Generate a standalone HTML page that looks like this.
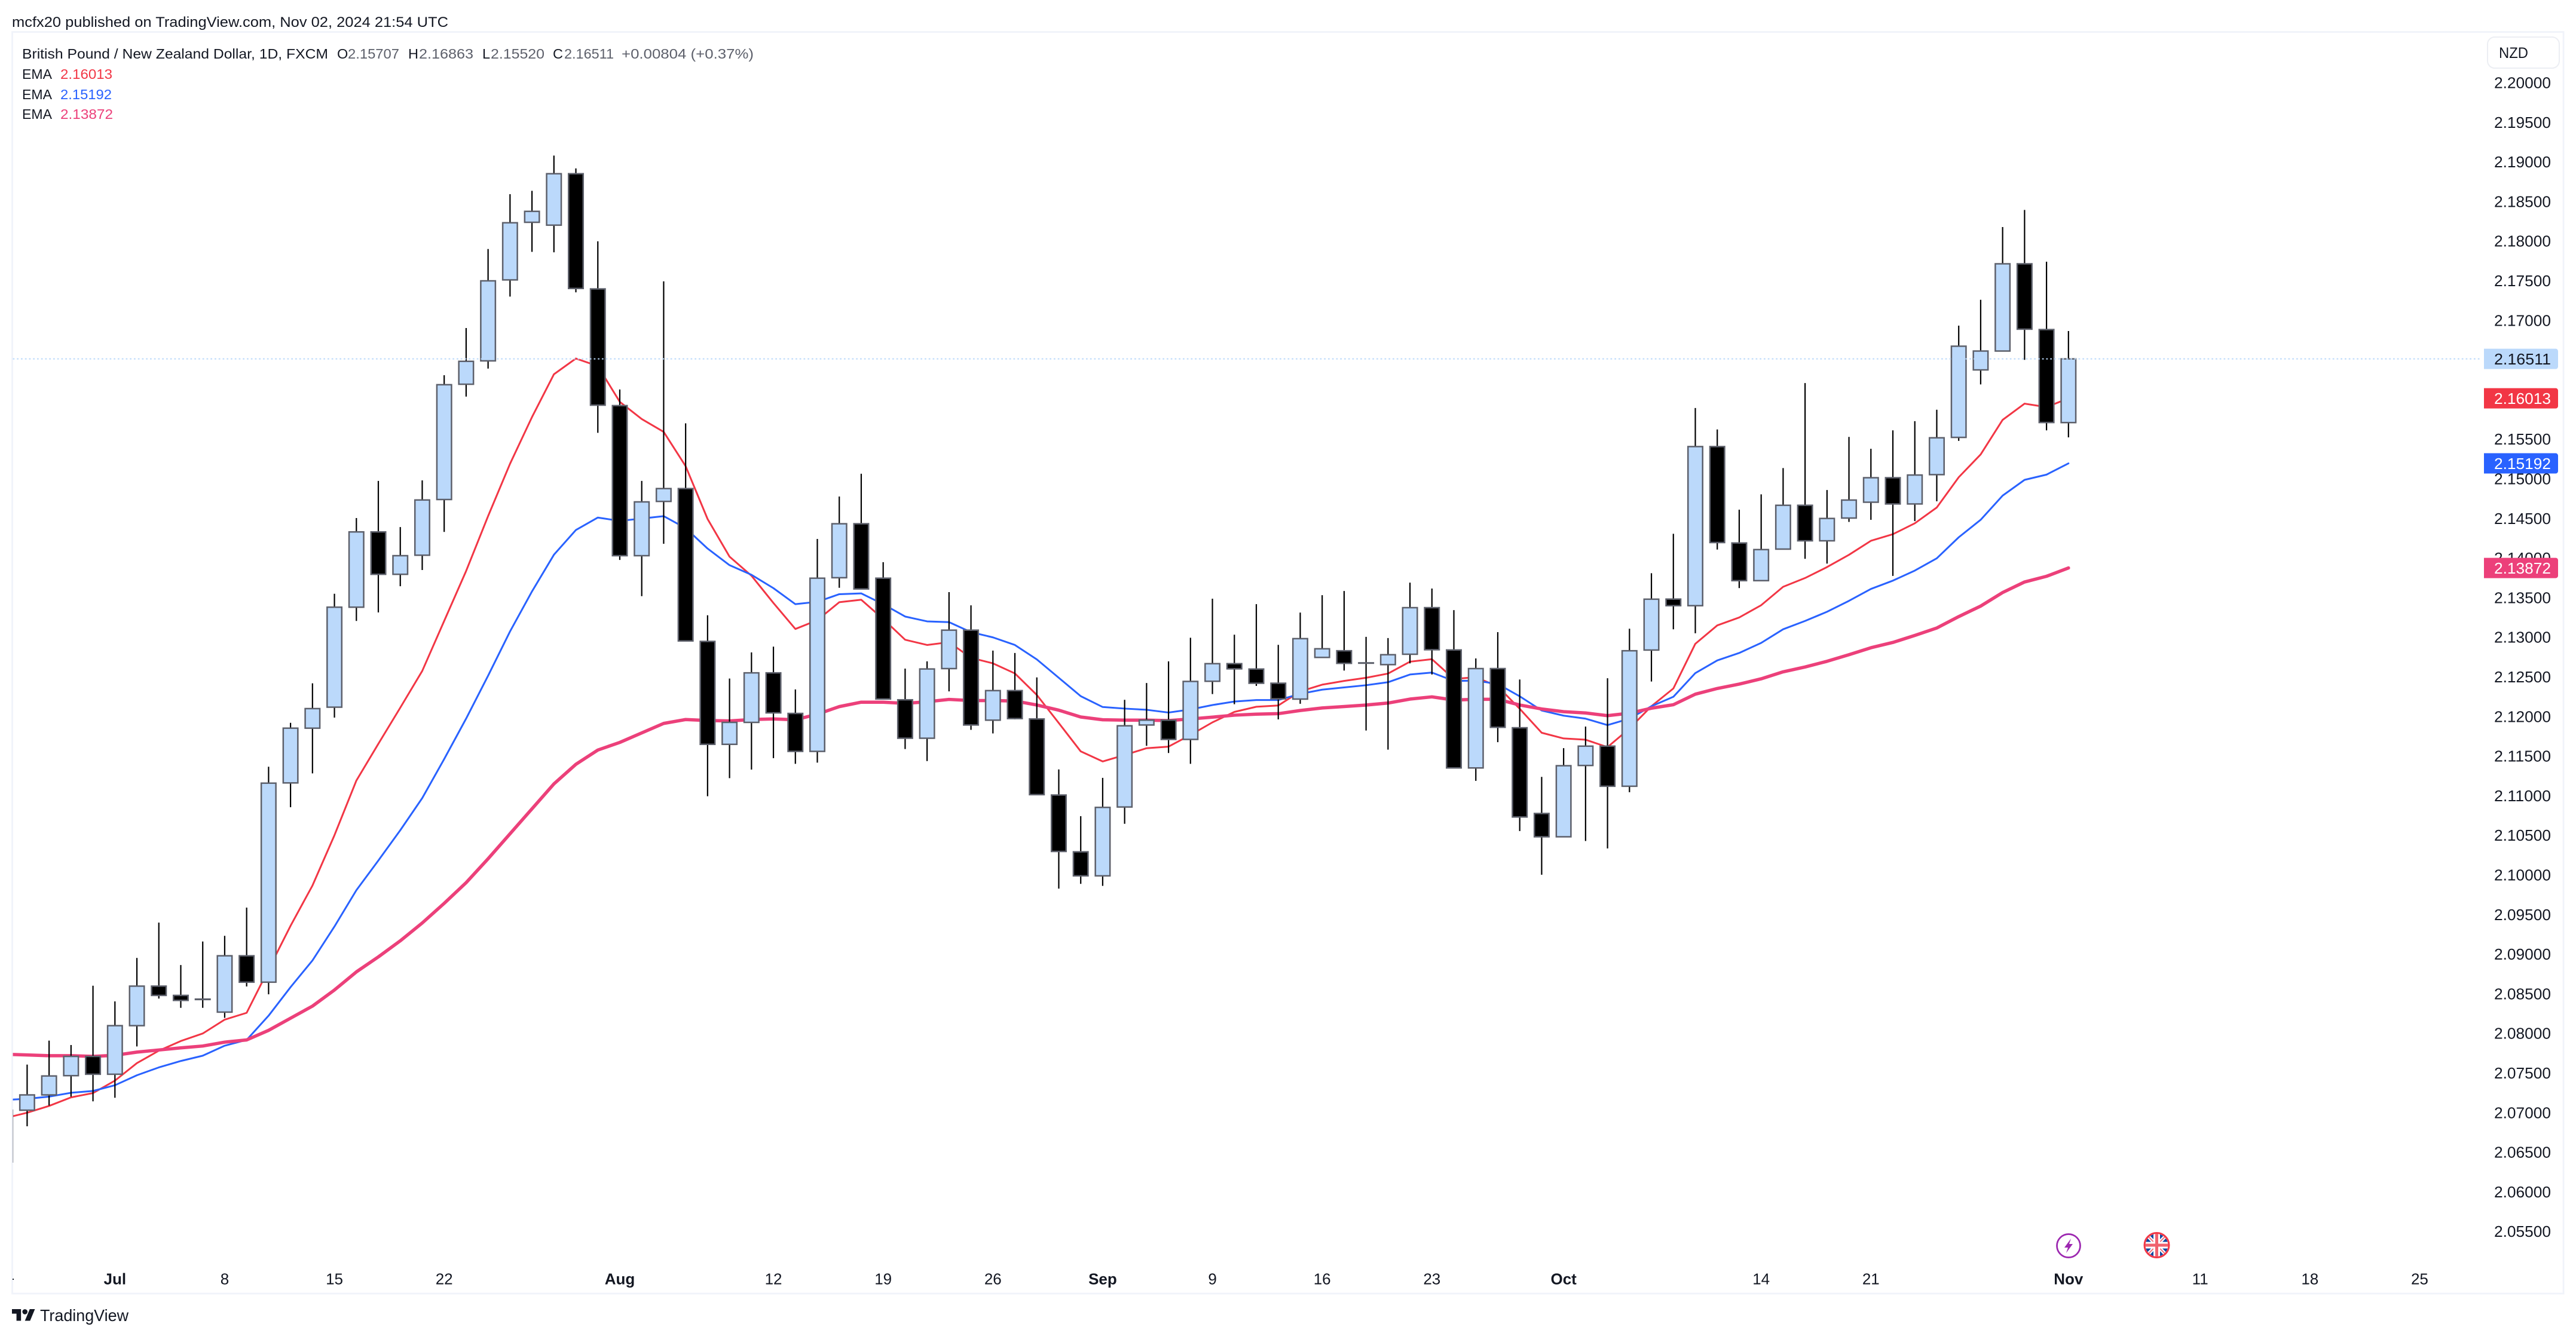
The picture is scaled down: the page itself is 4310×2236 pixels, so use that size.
<!DOCTYPE html>
<html lang="en">
<head>
<meta charset="utf-8">
<title>GBP/NZD 1D chart</title>
<style>
html,body{margin:0;padding:0;background:#fff;}
svg{display:block;font-family:"Liberation Sans",sans-serif;}
</style>
</head>
<body>
<svg id="chart" xmlns="http://www.w3.org/2000/svg" width="4310" height="2236" viewBox="0 0 4310 2236">
  <defs>
    <clipPath id="plot-clip"><rect x="21.5" y="54" width="4130" height="2110"/></clipPath>
    <clipPath id="flag-clip"><circle cx="3608.5" cy="2084" r="19"/></clipPath>
  </defs>
  <rect x="0" y="0" width="4310" height="2236" fill="#ffffff"/>
  <rect x="20.5" y="53.5" width="4268.5" height="2111.5" fill="none" stroke="#f0f3fa" stroke-width="2.75"/>
  <text x="20" y="45" font-size="24" fill="#131722" textLength="730" lengthAdjust="spacingAndGlyphs">mcfx20 published on TradingView.com, Nov 02, 2024 21:54 UTC</text>

  <g id="series-layer" clip-path="url(#plot-clip)"></g>
  <g id="candle-layer" clip-path="url(#plot-clip)"></g>
  <g id="overlay-layer"></g>
  <g id="axis-layer"></g>

  <g font-size="23.5">
    <text x="37" y="98" fill="#131722" textLength="512" lengthAdjust="spacingAndGlyphs">British Pound / New Zealand Dollar, 1D, FXCM</text>
    <text x="564" y="98" fill="#131722">O</text>
    <text x="582" y="98" fill="#5d606b" textLength="86" lengthAdjust="spacingAndGlyphs">2.15707</text>
    <text x="683" y="98" fill="#131722">H</text>
    <text x="701" y="98" fill="#5d606b" textLength="91" lengthAdjust="spacingAndGlyphs">2.16863</text>
    <text x="807" y="98" fill="#131722">L</text>
    <text x="821" y="98" fill="#5d606b" textLength="90" lengthAdjust="spacingAndGlyphs">2.15520</text>
    <text x="925" y="98" fill="#131722">C</text>
    <text x="944" y="98" fill="#5d606b" textLength="83" lengthAdjust="spacingAndGlyphs">2.16511</text>
    <text x="1040" y="98" fill="#5d606b" textLength="221" lengthAdjust="spacingAndGlyphs">+0.00804 (+0.37%)</text>
    <text x="37" y="132" fill="#131722" textLength="50" lengthAdjust="spacingAndGlyphs">EMA</text>
    <text x="101" y="132" fill="#f23645" textLength="87" lengthAdjust="spacingAndGlyphs">2.16013</text>
    <text x="37" y="166" fill="#131722" textLength="50" lengthAdjust="spacingAndGlyphs">EMA</text>
    <text x="101" y="166" fill="#2962ff" textLength="86" lengthAdjust="spacingAndGlyphs">2.15192</text>
    <text x="37" y="199" fill="#131722" textLength="50" lengthAdjust="spacingAndGlyphs">EMA</text>
    <text x="101" y="199" fill="#ec407a" textLength="88" lengthAdjust="spacingAndGlyphs">2.13872</text>
  </g>

  <rect x="4162" y="62" width="120" height="52" rx="12" fill="#ffffff" stroke="#eceef3" stroke-width="2"/>
  <text x="4181" y="97" font-size="25" fill="#131722" textLength="49" lengthAdjust="spacingAndGlyphs">NZD</text>

  <rect x="21" y="2140" width="2" height="2" fill="#131722"/>

  <g>
    <circle cx="3461" cy="2085" r="19.5" fill="#ffffff" stroke="#9c27b0" stroke-width="2.75"/>
    <polygon points="3465,2073 3454,2088 3460,2088 3457,2097 3468,2082 3462,2082" fill="#9c27b0"/>
  </g>
  <g>
    <circle cx="3608.5" cy="2084" r="19" fill="#0d47a1"/>
    <g clip-path="url(#flag-clip)">
      <path d="M3590 2065L3627 2103M3627 2065L3590 2103" stroke="#ffffff" stroke-width="6"/>
      <path d="M3590 2065L3627 2103M3627 2065L3590 2103" stroke="#f0737d" stroke-width="2"/>
      <rect x="3603" y="2064" width="11" height="40" fill="#ffffff"/>
      <rect x="3588" y="2078.5" width="41" height="11" fill="#ffffff"/>
      <rect x="3606" y="2064" width="5" height="40" fill="#f0626e"/>
      <rect x="3588" y="2081.5" width="41" height="5" fill="#f0626e"/>
    </g>
    <circle cx="3608.5" cy="2084" r="20.5" fill="none" stroke="#f23645" stroke-width="3"/>
  </g>

  <g>
    <path transform="translate(20 2186.7) scale(1.083)" fill="#131722" d="M14 22H7V11H0V4h14v18zM28 22h-8l7.5-18h8L28 22z"/>
    <circle cx="41.7" cy="2195.4" r="4.3" fill="#131722"/>
    <text x="67" y="2211" font-size="28" fill="#131722" textLength="148" lengthAdjust="spacingAndGlyphs">TradingView</text>
  </g>
</svg>

<script>
// Daily candles: first entry is Jun 24, index 5 is Jul 1, last entry is Nov 1.
var opens = [2.06375,2.07028,2.07221,2.07464,2.07707,2.07482,2.08095,2.08594,2.08477,2.08430,2.08266,2.08977,2.08644,2.11159,2.11850,2.12115,2.13377,2.14327,2.13792,2.14033,2.14736,2.16191,2.16486,2.17508,2.18235,2.18199,2.18848,2.17394,2.15921,2.14027,2.14712,2.14874,2.12945,2.11646,2.11923,2.12548,2.12036,2.11557,2.13749,2.14430,2.13743,2.12208,2.11723,2.12602,2.13087,2.11951,2.12324,2.11966,2.11006,2.10289,2.09986,2.10855,2.11890,2.11951,2.11708,2.12442,2.12664,2.12596,2.12417,2.12217,2.12743,2.12827,2.12674,2.12652,2.12783,2.13371,2.12837,2.11348,2.12602,2.11855,2.10773,2.10479,2.11379,2.11623,2.11117,2.12836,2.13479,2.13396,2.15404,2.14187,2.13712,2.14110,2.14663,2.14215,2.14502,2.14702,2.15011,2.14680,2.15050,2.15520,2.16372,2.16610,2.17711,2.16881,2.15707];
var highs = [2.07028,2.07604,2.07906,2.07851,2.08599,2.08401,2.08950,2.09396,2.08860,2.09157,2.09229,2.09585,2.11363,2.11917,2.12416,2.13546,2.14502,2.14971,2.14388,2.14977,2.16305,2.16900,2.17898,2.18590,2.18632,2.19077,2.18915,2.17995,2.16125,2.14971,2.17490,2.15698,2.13275,2.12476,2.12806,2.12879,2.12339,2.14238,2.14774,2.15061,2.13945,2.12602,2.12693,2.13567,2.13400,2.12829,2.12799,2.12491,2.11329,2.10739,2.11223,2.12208,2.12420,2.12693,2.12991,2.13484,2.13030,2.13415,2.12902,2.13309,2.13528,2.13581,2.13002,2.12987,2.13687,2.13612,2.13340,2.12730,2.13062,2.12464,2.11235,2.11598,2.11870,2.12480,2.13105,2.13806,2.14303,2.15891,2.15620,2.14608,2.14801,2.15133,2.16206,2.14856,2.15526,2.15376,2.15609,2.15725,2.15869,2.16931,2.17257,2.18175,2.18391,2.17738,2.16863];
var lows = [2.06375,2.06825,2.07086,2.07199,2.07140,2.07185,2.07833,2.08437,2.08320,2.08320,2.08194,2.08590,2.08491,2.10852,2.11279,2.11983,2.13203,2.13311,2.13642,2.13846,2.14327,2.16035,2.16389,2.17297,2.17862,2.17856,2.17351,2.15578,2.13973,2.13516,2.14177,2.12951,2.10991,2.11219,2.11327,2.11472,2.11400,2.11415,2.13622,2.13607,2.12218,2.11587,2.11435,2.12314,2.11829,2.11784,2.11961,2.11011,2.09825,2.09885,2.09860,2.10643,2.11627,2.11537,2.11400,2.12280,2.12152,2.12383,2.11961,2.12158,2.12743,2.12577,2.11820,2.11579,2.12668,2.12527,2.11348,2.11185,2.11673,2.10551,2.10000,2.10479,2.10426,2.10332,2.11042,2.12439,2.13098,2.13048,2.14104,2.13618,2.13712,2.14110,2.13988,2.13927,2.14453,2.14480,2.13772,2.14464,2.14713,2.15476,2.16189,2.16610,2.16499,2.15609,2.15520];
var closes = [2.07028,2.07221,2.07460,2.07707,2.07482,2.08095,2.08594,2.08477,2.08414,2.08425,2.08977,2.08644,2.11156,2.11850,2.12097,2.13377,2.14327,2.13792,2.14027,2.14730,2.16185,2.16480,2.17496,2.18229,2.18373,2.18848,2.17400,2.15927,2.14027,2.14706,2.14874,2.12951,2.11646,2.11923,2.12548,2.12043,2.11557,2.13743,2.14430,2.13607,2.12218,2.11723,2.12597,2.13087,2.11890,2.12324,2.11971,2.11011,2.10294,2.09986,2.10850,2.11880,2.11951,2.11708,2.12440,2.12664,2.12599,2.12417,2.12220,2.12980,2.12852,2.12668,2.12671,2.12777,2.13371,2.12840,2.11348,2.12602,2.11861,2.10729,2.10479,2.11376,2.11623,2.11117,2.12827,2.13478,2.13396,2.15404,2.14193,2.13712,2.14104,2.14663,2.14215,2.14497,2.14729,2.15011,2.14680,2.15045,2.15515,2.16671,2.16610,2.17711,2.16886,2.15708,2.16511];

var emaFast = [2.06929,2.06996,2.07082,2.07190,2.07244,2.07401,2.07622,2.07779,2.07901,2.07996,2.08171,2.08257,2.08806,2.09355,2.09864,2.10498,2.11189,2.11652,2.12109,2.12572,2.13203,2.13834,2.14526,2.15187,2.15776,2.16317,2.16516,2.16420,2.15969,2.15752,2.15590,2.15157,2.14490,2.14015,2.13774,2.13430,2.13102,2.13213,2.13440,2.13471,2.13228,2.12966,2.12900,2.12935,2.12738,2.12668,2.12541,2.12269,2.11915,2.11557,2.11430,2.11511,2.11597,2.11617,2.11764,2.11923,2.12055,2.12120,2.12136,2.12314,2.12399,2.12446,2.12486,2.12539,2.12689,2.12721,2.12471,2.12493,2.12377,2.12095,2.11792,2.11720,2.11704,2.11611,2.11845,2.12127,2.12351,2.12915,2.13147,2.13247,2.13402,2.13634,2.13745,2.13883,2.14038,2.14215,2.14298,2.14436,2.14635,2.15017,2.15305,2.15741,2.15946,2.15902,2.16013];
var emaMid = [2.07158,2.07172,2.07199,2.07248,2.07271,2.07343,2.07469,2.07568,2.07649,2.07716,2.07842,2.07915,2.08221,2.08581,2.08918,2.09346,2.09805,2.10179,2.10562,2.10967,2.11460,2.11971,2.12512,2.13071,2.13576,2.14039,2.14351,2.14508,2.14466,2.14496,2.14526,2.14375,2.14117,2.13907,2.13786,2.13617,2.13415,2.13445,2.13541,2.13551,2.13415,2.13259,2.13198,2.13188,2.13062,2.12996,2.12900,2.12718,2.12486,2.12254,2.12117,2.12097,2.12082,2.12047,2.12086,2.12142,2.12186,2.12205,2.12205,2.12283,2.12336,2.12364,2.12392,2.12430,2.12527,2.12552,2.12446,2.12449,2.12408,2.12252,2.12073,2.12008,2.11970,2.11889,2.11970,2.12127,2.12246,2.12545,2.12705,2.12799,2.12926,2.13098,2.13203,2.13319,2.13457,2.13607,2.13712,2.13839,2.13994,2.14259,2.14480,2.14785,2.14984,2.15050,2.15192];
var emaSlow = [2.07734,2.07725,2.07716,2.07716,2.07707,2.07721,2.07761,2.07788,2.07815,2.07838,2.07887,2.07915,2.08036,2.08189,2.08342,2.08545,2.08774,2.08963,2.09166,2.09391,2.09639,2.09900,2.10202,2.10517,2.10832,2.11147,2.11394,2.11574,2.11670,2.11790,2.11910,2.11959,2.11947,2.11941,2.11959,2.11966,2.11956,2.12026,2.12122,2.12178,2.12178,2.12163,2.12183,2.12213,2.12198,2.12198,2.12193,2.12142,2.12077,2.11991,2.11956,2.11951,2.11951,2.11946,2.11966,2.11989,2.12014,2.12027,2.12033,2.12073,2.12105,2.12123,2.12142,2.12167,2.12217,2.12245,2.12205,2.12214,2.12214,2.12142,2.12092,2.12058,2.12042,2.12008,2.12039,2.12102,2.12146,2.12279,2.12351,2.12406,2.12473,2.12561,2.12622,2.12694,2.12777,2.12865,2.12932,2.13020,2.13114,2.13258,2.13391,2.13562,2.13695,2.13767,2.13872];

var priceTicks = [2.20,2.195,2.19,2.185,2.18,2.175,2.17,2.155,2.15,2.145,2.14,2.135,2.13,2.125,2.12,2.115,2.11,2.105,2.10,2.095,2.09,2.085,2.08,2.075,2.07,2.065,2.06,2.055];
var timeTickBars = [5,10,15,20,28,35,40,45,50,55,60,65,71,80,85,94,100,105,110];
var timeTickLabels = ["Jul","8","15","22","Aug","12","19","26","Sep","9","16","23","Oct","14","21","Nov","11","18","25"];
var timeTickBold = ["Jul","Aug","Sep","Oct","Nov"];

var SVGNS = "http://www.w3.org/2000/svg";
function xAt(barIndex){ return 192.3 + 36.725 * (barIndex - 5); }
function yAt(price){ return 138 + (2.2 - price) * 13260; }
function make(tag, attrs){
  var n = document.createElementNS(SVGNS, tag);
  for (var k in attrs){ n.setAttribute(k, attrs[k]); }
  return n;
}

var seriesLayer = document.getElementById("series-layer");
var candleLayer = document.getElementById("candle-layer");
var overlayLayer = document.getElementById("overlay-layer");
var axisLayer = document.getElementById("axis-layer");

function drawEma(values, color, width, name){
  var pts = [];
  for (var i = 0; i < values.length; i++){
    pts.push(xAt(i).toFixed(2) + "," + yAt(values[i]).toFixed(2));
  }
  var el = make("polyline", {points: pts.join(" "), fill: "none", stroke: color, "stroke-width": width, "stroke-linejoin": "round", "stroke-linecap": "round"});
  
  
  seriesLayer.appendChild(el);
}
drawEma(emaFast, "#f23645", 3, "ema-fast-line");
drawEma(emaMid, "#2962ff", 3, "ema-mid-line");
drawEma(emaSlow, "#ec407a", 5.5, "ema-slow-line");

function drawCandle(c){
  var cx = xAt(c);
  var up = closes[c] >= opens[c];
  var wick = make("line", {x1: cx, x2: cx, y1: yAt(highs[c]), y2: yAt(lows[c]), stroke: "#000000", "stroke-width": 2.2});
  
  
  candleLayer.appendChild(wick);
  var bodyTop = yAt(Math.max(opens[c], closes[c]));
  var bodyBottom = yAt(Math.min(opens[c], closes[c]));
  var body = make("rect", {x: cx - 12.25, y: bodyTop, width: 24.5, height: Math.max(bodyBottom - bodyTop, 0.5), fill: up ? "#bbd9fb" : "#000000", stroke: "#5d606b", "stroke-width": 2.5});
  
  
  candleLayer.appendChild(body);
}
for (var c = 0; c < opens.length; c++){
  drawCandle(c);
}

var lastClose = closes[closes.length - 1];
var lastLine = make("line", {x1: 21.5, x2: 4150, y1: yAt(lastClose), y2: yAt(lastClose), stroke: "#bbd9fb", "stroke-width": 2, "stroke-dasharray": "2.75 4"});


overlayLayer.appendChild(lastLine);

for (var t = 0; t < priceTicks.length; t++){
  var pt = make("text", {x: 4173, y: yAt(priceTicks[t]) + 9.5, "font-size": 26, fill: "#131722", textLength: 95, lengthAdjust: "spacingAndGlyphs"});
  pt.textContent = priceTicks[t].toFixed(5);
  
  
  axisLayer.appendChild(pt);
}

for (var u = 0; u < timeTickBars.length; u++){
  var lbl = timeTickLabels[u];
  var bold = timeTickBold.indexOf(lbl) >= 0;
  var tt = make("text", {x: xAt(timeTickBars[u]), y: 2149.5, "font-size": 26, "text-anchor": "middle", fill: "#131722", "font-weight": bold ? "bold" : "normal"});
  tt.textContent = lbl;
  
  
  axisLayer.appendChild(tt);
}

function priceTag(value, bg, fg, name){
  var yc = yAt(value);
  var tag = make("path", {d: "M4156 " + (yc - 17) + "H4276a4 4 0 0 1 4 4V" + (yc + 13) + "a4 4 0 0 1 -4 4H4156Z", fill: bg});
  
  
  axisLayer.appendChild(tag);
  var tx = make("text", {x: 4173, y: yc + 9.5, "font-size": 26, fill: fg, textLength: 95, lengthAdjust: "spacingAndGlyphs"});
  tx.textContent = value.toFixed(5);
  
  
  axisLayer.appendChild(tx);
}
priceTag(lastClose, "#bbd9fb", "#131722", "last-price-label");
priceTag(emaFast[emaFast.length - 1], "#f23645", "#ffffff", "ema-fast-price-label");
priceTag(emaMid[emaMid.length - 1], "#2962ff", "#ffffff", "ema-mid-price-label");
priceTag(emaSlow[emaSlow.length - 1], "#ec407a", "#ffffff", "ema-slow-price-label");
</script>
</body>
</html>
